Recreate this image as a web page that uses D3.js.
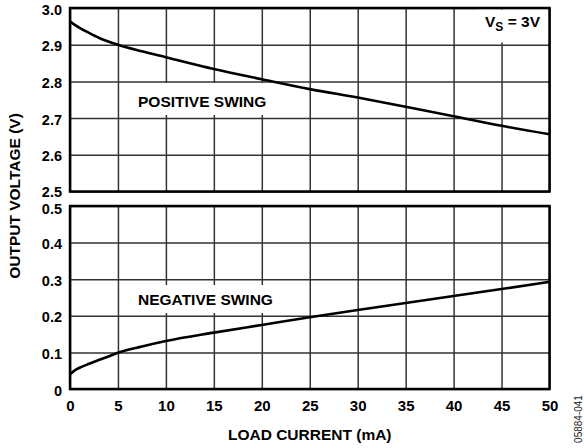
<!DOCTYPE html>
<html><head><meta charset="utf-8">
<script src="https://cdn.jsdelivr.net/npm/d3@7"></script>
<style>
html,body{margin:0;padding:0;background:#fff;}
svg{display:block;font-family:"Liberation Sans",Arial,Helvetica,sans-serif;}
</style></head>
<body>
<svg id="c" width="584" height="448"></svg>
<script>
// Data
const loadCurrent = [0, 1, 2, 3, 5, 7.5, 10, 15, 20, 25, 30, 35, 40, 45, 50];
const positiveSwing = [2.963, 2.946, 2.932, 2.919, 2.900, 2.882, 2.866, 2.834, 2.806, 2.779, 2.756, 2.731, 2.705, 2.679, 2.656];
const negCurrent = [0, 0.5, 1, 2, 3, 4, 5, 7.5, 10, 15, 20, 25, 30, 35, 40, 45, 50];
const negativeSwing = [0.040, 0.051, 0.058, 0.069, 0.079, 0.089, 0.099, 0.116, 0.131, 0.154, 0.175, 0.196, 0.216, 0.235, 0.254, 0.273, 0.293];
const xTicks = [0, 5, 10, 15, 20, 25, 30, 35, 40, 45, 50];
const topTicks = [2.5, 2.6, 2.7, 2.8, 2.9, 3.0];
const topTickLabels = ["2.5", "2.6", "2.7", "2.8", "2.9", "3.0"];
const botTicks = [0, 0.1, 0.2, 0.3, 0.4, 0.5];
const botTickLabels = ["0", "0.1", "0.2", "0.3", "0.4", "0.5"];

const svg = d3.select("#c");
const L = 70, R = 549.5;
const x = d3.scaleLinear().domain([0, 50]).range([L, R]);
const yTop = d3.scaleLinear().domain([2.5, 3.0]).range([191.5, 8]);
const yBot = d3.scaleLinear().domain([0, 0.5]).range([389, 206]);

const gridColor = "#333";
const font = "14.5px";

function panel(y, ticks, labels, xs, ys, label, labelPos, showX, edgeShift) {
  const top = y.range()[1], bot = y.range()[0];
  const g = svg.append("g");
  g.append("g").attr("transform", `translate(0,${bot})`)
    .call(d3.axisBottom(x).tickValues(xTicks).tickSize(-(bot - top)).tickFormat(""))
    .call(s => s.select(".domain").remove())
    .selectAll("line").attr("stroke", gridColor).attr("stroke-width", 1.5);
  g.append("g").attr("transform", `translate(${L},0)`)
    .call(d3.axisLeft(y).tickValues(ticks).tickSize(-(R - L)).tickFormat(""))
    .call(s => s.select(".domain").remove())
    .selectAll("line").attr("stroke", gridColor).attr("stroke-width", 1.5);
  const yl = g.append("g").attr("transform", `translate(${L},0)`)
    .call(d3.axisLeft(y).tickValues(ticks).tickSize(0).tickPadding(8).tickFormat((d, i) => labels[i]));
  yl.select(".domain").remove();
  yl.selectAll("text").attr("font-size", font).attr("font-weight", "bold").attr("fill", "#000")
    .attr("font-family", "Liberation Sans, Arial, sans-serif")
    .attr("dy", d => d === edgeShift[0] ? (0.42 * 14.5 + edgeShift[1]) + "px" : "0.42em");
  const lb = g.append("g");
  lb.append("rect").attr("x", labelPos[0]).attr("y", labelPos[1]).attr("width", labelPos[2]).attr("height", labelPos[3]).attr("fill", "#fff");
  lb.append("text").attr("x", 138).attr("y", labelPos[4]).attr("font-size", "15.5px").attr("font-weight", "bold").text(label);
  const line = d3.line().x((d, i) => x(xs[i])).y(d => y(d)).curve(d3.curveMonotoneX);
  g.append("path").datum(ys).attr("d", line).attr("fill", "none").attr("stroke", "#000").attr("stroke-width", 2.6);
  g.append("rect").attr("x", L).attr("y", top).attr("width", R - L).attr("height", bot - top)
    .attr("fill", "none").attr("stroke", "#000").attr("stroke-width", 2.5);
  if (showX) {
    const xl = g.append("g").attr("transform", `translate(0,${bot})`)
      .call(d3.axisBottom(x).tickValues(xTicks).tickSize(0).tickPadding(11).tickFormat(d => String(d)));
    xl.select(".domain").remove();
    xl.selectAll("text").attr("font-size", "15px").attr("font-weight", "bold").attr("fill", "#000")
      .attr("font-family", "Liberation Sans, Arial, sans-serif");
  }
  return g;
}

const gTop = panel(yTop, topTicks, topTickLabels, loadCurrent, positiveSwing, "POSITIVE SWING", [133, 83, 142, 32, 106.5], false, [2.5, -1.5]);
gTop.insert("rect", "path").attr("x", 478).attr("y", 9.5).attr("width", 70).attr("height", 33).attr("fill", "#fff");
const vs = gTop.append("text").attr("x", 540).attr("y", 27).attr("text-anchor", "end").attr("font-size", "15.5px").attr("font-weight", "bold");
vs.append("tspan").text("V");
vs.append("tspan").attr("font-size", "12px").attr("dy", 4).text("S");
vs.append("tspan").attr("dy", -4).text(" = 3V");

panel(yBot, botTicks, botTickLabels, negCurrent, negativeSwing, "NEGATIVE SWING", [133, 285, 149, 28, 305], true, [0.5, 1.5]);

svg.append("text").attr("x", (L + R) / 2).attr("y", 440).attr("text-anchor", "middle")
  .attr("font-size", "15.5px").attr("font-weight", "bold").text("LOAD CURRENT (mA)");
svg.append("text").attr("transform", "translate(20,196) rotate(-90)").attr("text-anchor", "middle")
  .attr("font-size", "15.5px").attr("font-weight", "bold").text("OUTPUT VOLTAGE (V)");
svg.append("text").attr("transform", "translate(582,419) rotate(-90)").attr("text-anchor", "middle")
  .attr("font-size", "10px").attr("fill", "#222").text("05884-041");
</script>
</body></html>
